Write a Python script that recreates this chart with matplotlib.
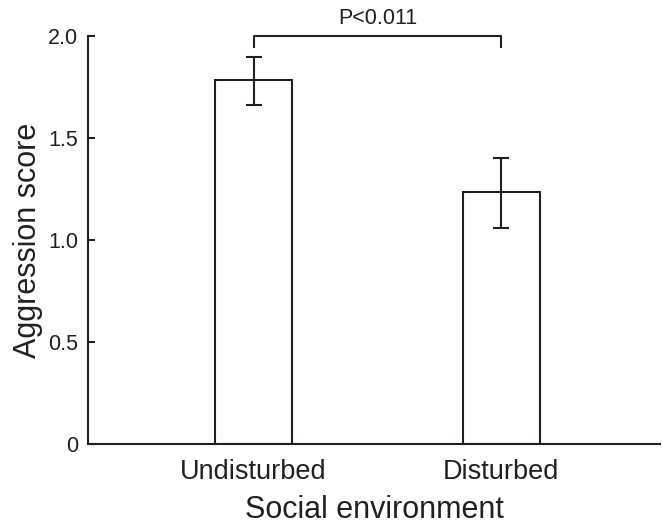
import matplotlib
matplotlib.use("Agg")
import matplotlib.pyplot as plt

# data
groups = ["Undisturbed", "Disturbed"]
means = [1.785, 1.235]
upper = [1.898, 1.402]
lower = [1.662, 1.059]
p_text = "P<0.011"
yticks = [0, 0.5, 1.0, 1.5, 2.0]
ytick_labels = ["0", "0.5", "1.0", "1.5", "2.0"]

ink = "#231f20"
plt.rcParams["font.family"] = ["Liberation Sans", "DejaVu Sans"]

fig = plt.figure(figsize=(6.62, 5.27), dpi=100)
ax = fig.add_axes([0.133, 0.1575, 0.864, 0.7742])

x = list(range(len(groups)))
err_lo = [m - l for m, l in zip(means, lower)]
err_hi = [u - m for m, u in zip(means, upper)]

ax.bar(x, means, width=0.311, color="white", edgecolor=ink, linewidth=1.5, zorder=2)
ax.errorbar(x, means, yerr=[err_lo, err_hi], fmt="none", ecolor=ink,
            elinewidth=1.5, capsize=6, capthick=1.5, zorder=3)

# significance bracket
top = 2.0
leg = 0.06
ax.plot([x[0], x[0], x[1], x[1]], [top - leg, top, top, top - leg],
        color=ink, lw=1.5, clip_on=False, solid_capstyle="butt")
ax.text((x[0] + x[1]) / 2, top + 0.035, p_text, ha="center", va="bottom",
        fontsize=15.5, color=ink)

ax.set_xlim(-0.669, 1.642)
ax.set_ylim(0, 2.0)
ax.set_yticks(yticks)
ax.set_yticklabels(ytick_labels)
ax.set_xticks(x)
ax.set_xticklabels(groups)

for s in ["top", "right"]:
    ax.spines[s].set_visible(False)
for s in ["left", "bottom"]:
    ax.spines[s].set_linewidth(1.5)
    ax.spines[s].set_color(ink)

ax.tick_params(axis="y", direction="in", length=5, width=1.5, color=ink,
               labelsize=15.5, labelcolor=ink, pad=7)
ax.tick_params(axis="x", length=0, labelsize=19.5, labelcolor=ink, pad=11)

ax.set_xlabel("Social environment", fontsize=22, color=ink, labelpad=7)
ax.set_ylabel("Aggression score", fontsize=22, color=ink, labelpad=4)

fig.savefig("out.png", dpi=100)
